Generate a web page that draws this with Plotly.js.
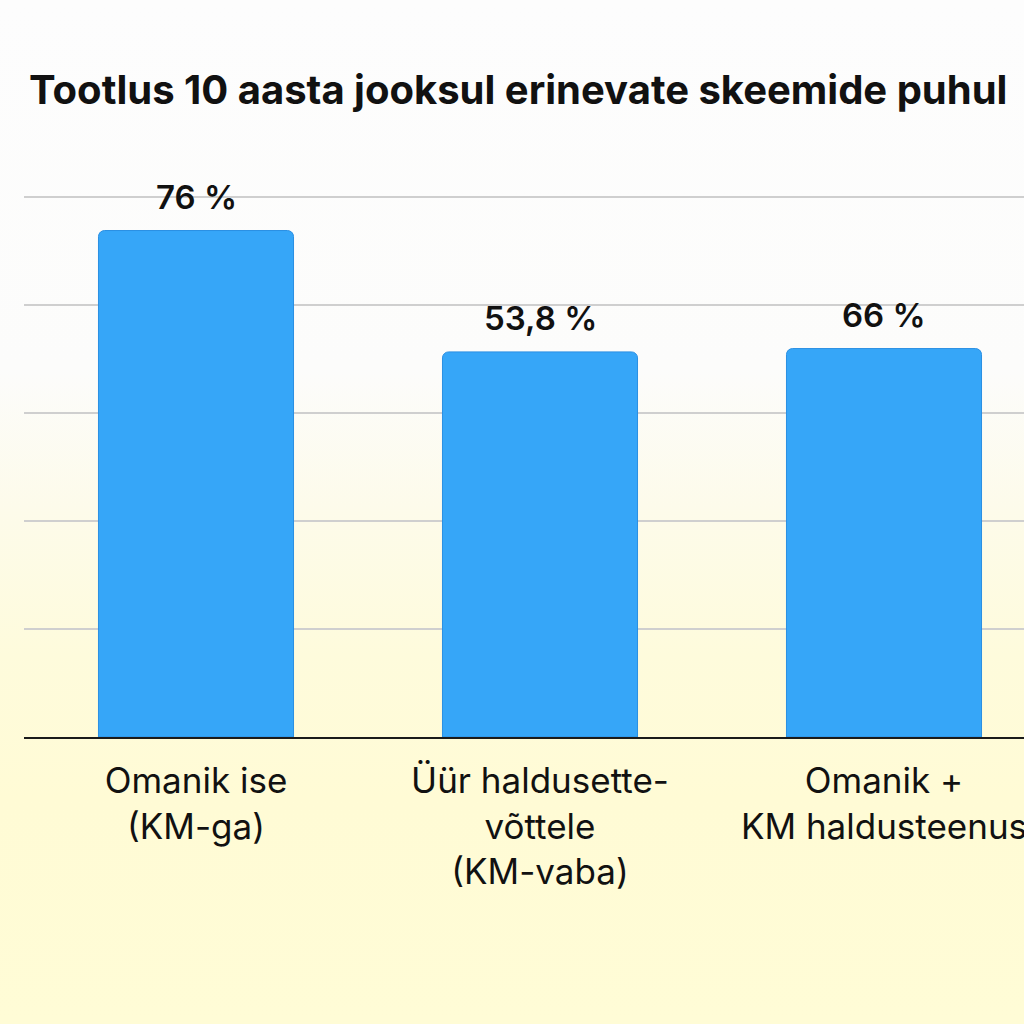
<!DOCTYPE html>
<html>
<head>
<meta charset="utf-8">
<script src="https://cdn.plot.ly/plotly-3.0.1.min.js"></script>
<style>
  html, body { margin: 0; padding: 0; width: 1024px; height: 1024px; overflow: hidden; }
  body { background: linear-gradient(to bottom, #fdfdfd 0%, #fcfcfb 36%, #fdfbea 50%, #fefbdc 64%, #fffbd5 78%, #fffcd6 100%); }
  #chart { width: 1080px; height: 1024px; }
</style>
</head>
<body>
<div id="chart"></div>
<script>
// Categories (x-axis labels)
const categories = ["Omanik ise<br>(KM-ga)", "Üür haldusette-<br>võttele<br>(KM-vaba)", "Omanik +<br>KM haldusteenus"];
// Bar heights as drawn in the picture (axis units)
const barHeights = [75.1, 57.1, 57.6];
// Value labels as printed above the bars
const valueLabels = ["76 %", "53,8 %", "66 %"];
const titleText = "Tootlus 10 aasta jooksul erinevate skeemide puhul";

const trace = {
  type: "bar",
  x: categories,
  y: barHeights,
  marker: { color: "#36a6f8", line: { color: "#2a8fe3", width: 1 } },
  hoverinfo: "skip"
};

const annotations = categories.map((c, i) => ({
  x: c, y: barHeights[i], xref: "x", yref: "y",
  text: valueLabels[i], showarrow: false,
  yanchor: "bottom", yshift: 12,
  font: { family: "Inter, 'Noto Sans', sans-serif", size: 33, color: "#111111", weight: 600 }
}));

const layout = {
  width: 1080, height: 1024,
  paper_bgcolor: "rgba(0,0,0,0)", plot_bgcolor: "rgba(0,0,0,0)",
  margin: { l: 24, r: 24, t: 184, b: 287 },
  title: {
    text: "<b>" + titleText + "</b>",
    x: 0, xref: "paper", xanchor: "left", y: 1, yref: "container", yanchor: "top",
    pad: { l: 5, t: 76 },
    font: { family: "Inter, 'Noto Sans', sans-serif", size: 40, color: "#111111" }
  },
  bargap: 0.433,
  barcornerradius: 6,
  showlegend: false,
  xaxis: {
    type: "category",
    showline: true, linecolor: "#1a1a1a", linewidth: 2,
    showgrid: false, ticks: "",
    tickfont: { family: "Inter, 'Noto Sans', sans-serif", size: 35, color: "#111111" },
    ticklabelstandoff: 12,
    fixedrange: true
  },
  yaxis: {
    range: [0, 82], tick0: 0, dtick: 16,
    showgrid: true, gridcolor: "#cfcfcf", gridwidth: 2,
    zeroline: false, showticklabels: false, ticks: "",
    fixedrange: true
  },
  annotations: annotations
};

Plotly.newPlot("chart", [trace], layout, { displayModeBar: false, staticPlot: true });
</script>
</body>
</html>
